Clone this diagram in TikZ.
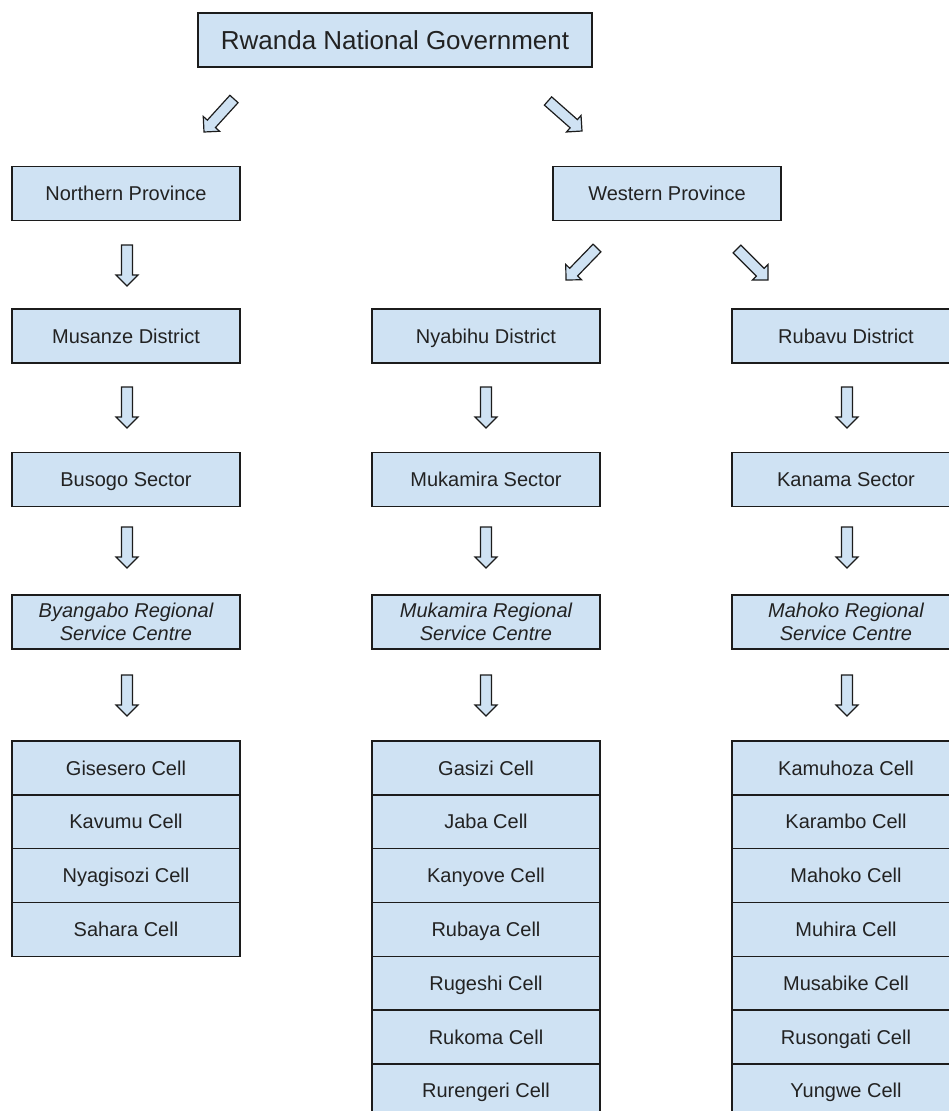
\documentclass[tikz,border=0pt]{standalone}
\usepackage{fontspec}
\setmainfont{Liberation Sans}
\usetikzlibrary{calc}
\definecolor{boxblue}{HTML}{CFE2F3}
\definecolor{edgecol}{HTML}{1C1C1C}
\definecolor{ink}{HTML}{222222}
\tikzset{
  box/.style={draw=edgecol, fill=boxblue, line width=1.4pt, minimum width=228pt, minimum height=54pt,
    inner sep=2pt, align=center, text=ink, font=\fontsize{20}{23}\selectfont,
    text height=14.5pt, text depth=0.2pt},
  rscbox/.style={box, font=\fontsize{20}{23}\selectfont\itshape, text height={}, text depth={}},
  cellbox/.style={box, minimum height=53.8pt},
  blk/.style={draw=edgecol, fill=boxblue, line width=1.2pt, line join=miter},
}
\newcommand{\blockarrow}[2]{%
  \coordinate (hb) at ($(#2)!11pt!(#1)$);
  \draw[blk] ($(#1)!5.5pt!90:(#2)$) -- ($(hb)!5.5pt!90:(#2)$) -- ($(hb)!11pt!90:(#2)$) -- (#2)
    -- ($(hb)!11pt!-90:(#2)$) -- ($(hb)!5.5pt!-90:(#2)$) -- ($(#1)!5.5pt!-90:(#2)$) -- cycle;
}
\begin{document}
\begin{tikzpicture}[x=1pt, y=-1pt]
\useasboundingbox (0,0) rectangle (948,1111);
\fill[white] (0,0) rectangle (948,1111);

% top
\node[box, minimum width=394pt, font=\fontsize{26}{30}\selectfont, text height=19pt, text depth=0.4pt] (nat) at (395,40) {Rwanda National Government};

% provinces
\node[box] (np) at (126,193.5) {Northern Province};
\node[box] (wp) at (667,193.5) {Western Province};

% districts
\node[box] (md) at (126,336) {Musanze District};
\node[box] (nd) at (486,336) {Nyabihu District};
\node[box] (rd) at (846,336) {Rubavu District};

% sectors
\node[box] (bs) at (126,479.5) {Busogo Sector};
\node[box] (ms) at (486,479.5) {Mukamira Sector};
\node[box] (ks) at (846,479.5) {Kanama Sector};

% regional service centres
\node[rscbox] (brsc) at (126,622) {Byangabo Regional\\Service Centre};
\node[rscbox] (mrsc) at (486,622) {Mukamira Regional\\Service Centre};
\node[rscbox] (hrsc) at (846,622) {Mahoko Regional\\Service Centre};

% cells
\foreach \t [count=\i] in {Gisesero Cell, Kavumu Cell, Nyagisozi Cell, Sahara Cell}
  \node[cellbox] (lc\i) at (126,{741+53.8*(\i-0.5)}) {\t};
\foreach \t [count=\i] in {Gasizi Cell, Jaba Cell, Kanyove Cell, Rubaya Cell, Rugeshi Cell, Rukoma Cell, Rurengeri Cell}
  \node[cellbox] (mc\i) at (486,{741+53.8*(\i-0.5)}) {\t};
\foreach \t [count=\i] in {Kamuhoza Cell, Karambo Cell, Mahoko Cell, Muhira Cell, Musabike Cell, Rusongati Cell, Yungwe Cell}
  \node[cellbox] (rc\i) at (846,{741+53.8*(\i-0.5)}) {\t};

% diagonal arrows
\coordinate (d1s) at (234,99);  \coordinate (d1e) at (204,132);
\coordinate (d2s) at (548,101); \coordinate (d2e) at (582,131);
\coordinate (d3s) at (597,248); \coordinate (d3e) at (566,280);
\coordinate (d4s) at (737,249); \coordinate (d4e) at (768,280);
\blockarrow{d1s}{d1e}
\blockarrow{d2s}{d2e}
\blockarrow{d3s}{d3e}
\blockarrow{d4s}{d4e}

% vertical arrows
\foreach \c/\x in {l/127, m/486, r/847}{
  \coordinate (\c v1s) at (\x,245); \coordinate (\c v1e) at (\x,286);
  \coordinate (\c v2s) at (\x,387); \coordinate (\c v2e) at (\x,428);
  \coordinate (\c v3s) at (\x,527); \coordinate (\c v3e) at (\x,568);
  \coordinate (\c v4s) at (\x,675); \coordinate (\c v4e) at (\x,716);
}
\blockarrow{lv1s}{lv1e}
\blockarrow{lv2s}{lv2e}
\blockarrow{lv3s}{lv3e}
\blockarrow{lv4s}{lv4e}
\blockarrow{mv2s}{mv2e}
\blockarrow{mv3s}{mv3e}
\blockarrow{mv4s}{mv4e}
\blockarrow{rv2s}{rv2e}
\blockarrow{rv3s}{rv3e}
\blockarrow{rv4s}{rv4e}
\end{tikzpicture}
\end{document}
